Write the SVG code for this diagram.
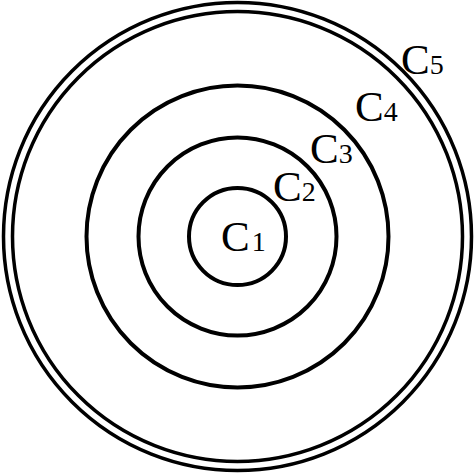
<svg xmlns="http://www.w3.org/2000/svg" width="474" height="474" viewBox="0 0 474 474">
<style>
.c{fill:none;stroke:#000;stroke-width:4}
.o{fill:none;stroke:#000;stroke-width:3.5}
.l{font-family:"Liberation Serif","Times New Roman",serif;font-size:43px;fill:#000}
.s{font-size:28px}
</style>
<rect width="474" height="474" fill="#fff"/>
<g id="C1"><circle class="c" cx="237.5" cy="236.5" r="48.5"/><text class="l" x="221" y="251">C<tspan class="s" dx="2">1</tspan></text></g>
<g id="C2"><circle class="c" cx="237.5" cy="236.5" r="99"/><text class="l" x="273" y="201">C<tspan class="s">2</tspan></text></g>
<g id="C3"><circle class="c" cx="237.5" cy="236.5" r="151"/><text class="l" x="310" y="163">C<tspan class="s">3</tspan></text></g>
<g id="C4"><text class="l" x="355" y="121">C<tspan class="s">4</tspan></text></g>
<g id="C5"><circle class="o" cx="237.5" cy="236.5" r="225"/><circle class="o" cx="237.5" cy="236.5" r="234"/><text class="l" x="401" y="74">C<tspan class="s">5</tspan></text></g>
</svg>
